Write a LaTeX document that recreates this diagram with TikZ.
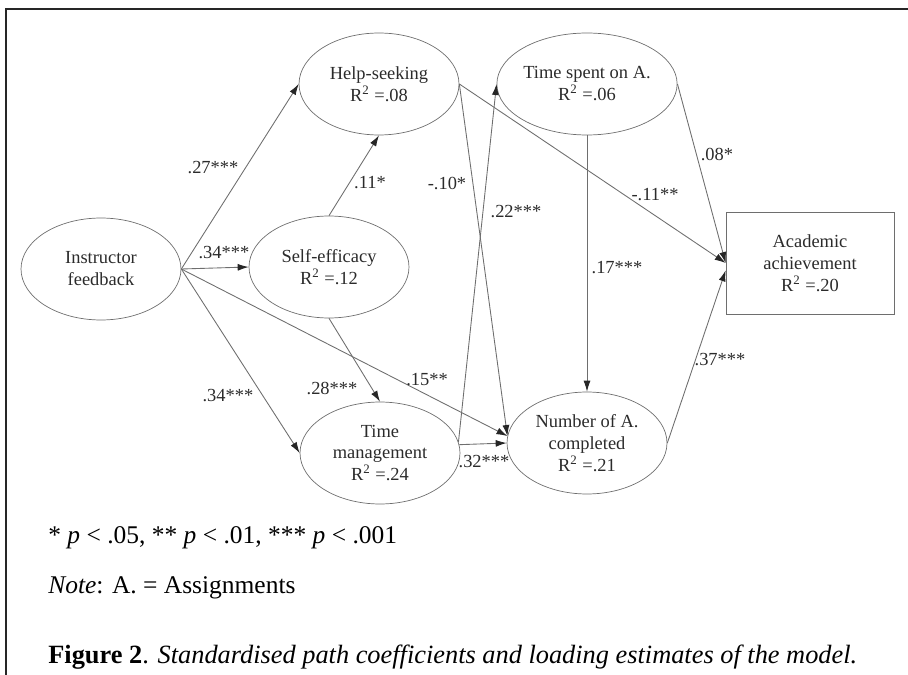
\documentclass[tikz,border=0pt]{standalone}
\usepackage{fontspec}
\setmainfont{Liberation Serif}
\usetikzlibrary{shapes.geometric,arrows.meta}
\definecolor{linegray}{HTML}{6E6E6E}
\definecolor{textgray}{HTML}{2B2B2B}

\begin{document}
\begin{tikzpicture}[x=0.02cm,y=-0.02cm,
    every node/.style={text=textgray,font=\fontsize{10.5}{12.5}\selectfont},
    latent/.style={ellipse,draw=linegray,minimum width=3.2cm,minimum height=2.04cm,inner sep=0pt,align=center},
    observed/.style={rectangle,draw=linegray,minimum width=3.36cm,minimum height=2.04cm,inner sep=0pt,align=center},
    coef/.style={inner sep=1pt},
    link/.style={draw=linegray,line width=0.5pt,-{Latex[length=2.2mm,width=1.4mm,color=black!85]}},
    legend/.style={anchor=west,inner sep=0pt,text=black,font=\fontsize{14.5}{17}\selectfont}]
      \useasboundingbox (0,0) rectangle (908,675);
      \draw[line width=0.8pt,black!85] (908,9) -- (6,9) -- (6,675);
      \draw
        (101,269) node[latent] (IF) {Instructor\\feedback}
        (379,84)  node[latent] (HS) {Help-seeking\\R\textsuperscript{2} =.08}
        (329,267) node[latent] (SE) {Self-efficacy\\R\textsuperscript{2} =.12}
        (380,453) node[latent] (TM) {Time\\management\\R\textsuperscript{2} =.24}
        (587,84)  node[latent] (TS) {Time spent on A.\\R\textsuperscript{2} =.06}
        (587,443) node[latent] (NC) {Number of A.\\completed\\R\textsuperscript{2} =.21}
        (810,263) node[observed] (AA) {Academic\\achievement\\R\textsuperscript{2} =.20};
      \draw[link] (IF.east) -- (HS.west);
      \draw[link] (IF.east) -- (SE.west);
      \draw[link] (IF.east) -- (TM.west);
      \draw[link] (IF.east) -- (NC.175);
      \draw[link] (SE.north) -- (HS.south);
      \draw[link] (SE.south) -- (TM.north);
      \draw[link] (HS.east) -- (AA.west);
      \draw[link] (HS.east) -- (NC.175);
      \draw[link] (TM.8) -- (TS.west);
      \draw[link] (TM.6) -- (NC.west);
      \draw[link] (TS.south) -- (NC.north);
      \draw[link] (TS.east) -- (AA.west);
      \draw[link] (NC.east) -- (AA.185);
      % path coefficients
      \draw
        (213,168) node[coef] (c1) {.27***}
        (224,253) node[coef] (c2) {.34***}
        (228,396) node[coef] (c3) {.34***}
        (427,380) node[coef] (c4) {.15**}
        (370,183) node[coef] (c5) {.11*}
        (332,388) node[coef] (c6) {.28***}
        (447,183) node[coef] (c7) {-.10*}
        (516,212) node[coef] (c8) {.22***}
        (655,195) node[coef] (c9) {-.11**}
        (617,268) node[coef] (c10) {.17***}
        (717,154) node[coef] (c11) {.08*}
        (720,360) node[coef] (c12) {.37***}
        (484,462) node[coef] (c13) {.32***};
      % notes and caption
      \draw
        (48,538) node[legend] (sig) {* \textit{p} < .05, ** \textit{p} < .01, *** \textit{p} < .001}
        (48,588) node[legend] (note) {\textit{Note}: A. = Assignments}
        (48,657) node[legend,font=\fontsize{15}{18}\selectfont] (cap) {\textbf{Figure 2}. \textit{Standardised path coefficients and loading estimates of the model.}};
    \end{tikzpicture}
\end{document}
